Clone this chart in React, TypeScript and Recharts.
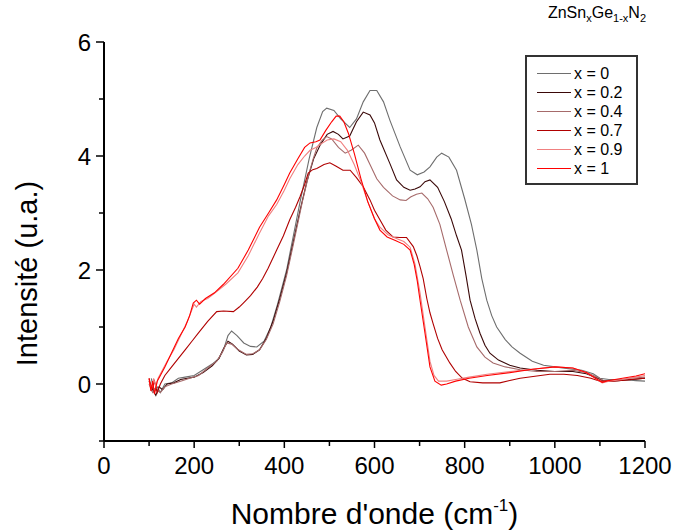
import { LineChart, Line, XAxis, YAxis, Label } from 'recharts';

const FONT = '"Liberation Sans", Arial, sans-serif';

const xTicks = [0, 100, 200, 300, 400, 500, 600, 700, 800, 900, 1000, 1100, 1200];
const yTicks = [-1, 0, 1, 2, 3, 4, 5, 6];

const seriesNames = ['x = 0', 'x = 0.2', 'x = 0.4', 'x = 0.7', 'x = 0.9', 'x = 1'];
const seriesColors = ['#6e6e6e', '#3a0808', '#a66a6a', '#b00000', '#f08080', '#ff0000'];

// [wavenumber, intensity]
const x0 = [
  [105, 0.1], [110, -0.1], [118, -0.05], [125, -0.15], [135, 0.0], [150, 0.02], [165, 0.1], [180, 0.12],
  [200, 0.15], [220, 0.25], [240, 0.35], [255, 0.45], [265, 0.6], [275, 0.85], [283, 0.93], [295, 0.85],
  [310, 0.72], [325, 0.66], [339, 0.65], [355, 0.75], [370, 1.0], [385, 1.4], [405, 2.0], [420, 2.6],
  [435, 3.2], [455, 3.95], [472, 4.5], [485, 4.78], [494, 4.84], [510, 4.8], [525, 4.65], [545, 4.5],
  [560, 4.65], [575, 4.95], [590, 5.15], [605, 5.15], [620, 4.95], [634, 4.63], [657, 4.16], [679, 3.75],
  [695, 3.67], [710, 3.72], [723, 3.81], [738, 3.98], [749, 4.05], [765, 3.98], [782, 3.75], [800, 3.25],
  [815, 2.8], [827, 2.35], [838, 1.85], [849, 1.47], [860, 1.2], [871, 1.0], [890, 0.78], [905, 0.65],
  [923, 0.54], [950, 0.4], [975, 0.33], [1000, 0.3], [1030, 0.27], [1060, 0.24], [1085, 0.18], [1100, 0.1],
  [1120, 0.08], [1150, 0.08], [1180, 0.06], [1200, 0.05],
];

const x02 = [
  [100, 0.05], [108, -0.1], [115, -0.2], [122, -0.05], [130, -0.1], [140, 0.0], [155, 0.02], [170, 0.08],
  [185, 0.1], [200, 0.12], [220, 0.2], [240, 0.32], [255, 0.45], [265, 0.62], [275, 0.75], [285, 0.7],
  [300, 0.58], [316, 0.51], [330, 0.52], [345, 0.6], [360, 0.8], [375, 1.1], [390, 1.5], [405, 1.95],
  [420, 2.5], [435, 3.05], [450, 3.55], [465, 3.95], [480, 4.2], [495, 4.38], [508, 4.43], [520, 4.38],
  [530, 4.3], [545, 4.35], [560, 4.6], [575, 4.77], [590, 4.72], [600, 4.58], [612, 4.28], [634, 3.87],
  [649, 3.58], [665, 3.45], [679, 3.4], [690, 3.42], [701, 3.46], [712, 3.55], [723, 3.58], [740, 3.45],
  [755, 3.2], [770, 2.9], [782, 2.6], [793, 2.35], [803, 1.9], [812, 1.47], [823, 1.15], [834, 0.89],
  [845, 0.68], [856, 0.54], [875, 0.42], [900, 0.33], [923, 0.28], [960, 0.24], [1000, 0.22], [1040, 0.22],
  [1070, 0.18], [1095, 0.1], [1110, 0.05], [1140, 0.06], [1170, 0.08], [1200, 0.1],
];

const x04 = [
  [100, 0.0], [108, -0.15], [115, -0.1], [125, -0.15], [135, -0.05], [150, 0.0], [170, 0.05], [190, 0.1],
  [210, 0.15], [230, 0.28], [250, 0.4], [262, 0.55], [272, 0.72], [283, 0.7], [298, 0.6], [316, 0.52],
  [330, 0.53], [345, 0.6], [360, 0.78], [375, 1.05], [390, 1.45], [405, 1.9], [420, 2.45], [440, 3.2],
  [455, 3.7], [464, 3.95], [472, 4.14], [484, 4.28], [494, 4.34], [505, 4.3], [520, 4.15], [535, 4.05],
  [548, 4.1], [564, 4.19], [578, 4.05], [590, 3.85], [605, 3.6], [620, 3.45], [640, 3.3], [657, 3.23],
  [670, 3.22], [680, 3.28], [693, 3.33], [705, 3.35], [718, 3.25], [730, 3.1], [745, 2.8], [760, 2.35],
  [775, 1.9], [790, 1.47], [808, 1.0], [827, 0.65], [845, 0.47], [863, 0.37], [890, 0.3], [923, 0.25],
  [960, 0.22], [1000, 0.22], [1040, 0.24], [1070, 0.2], [1095, 0.12], [1110, 0.05], [1140, 0.07],
  [1170, 0.1], [1200, 0.12],
];

const x07 = [
  [100, 0.1], [106, -0.1], [112, 0.05], [118, -0.15], [125, 0.0], [135, 0.15], [150, 0.3], [165, 0.45],
  [180, 0.6], [195, 0.75], [210, 0.9], [230, 1.1], [250, 1.27], [265, 1.28], [287, 1.27], [300, 1.35],
  [309, 1.42], [325, 1.55], [340, 1.7], [352, 1.85], [364, 2.03], [383, 2.35], [398, 2.6], [412, 2.88],
  [425, 3.1], [435, 3.29], [445, 3.5], [453, 3.7], [463, 3.76], [472, 3.78], [488, 3.85], [501, 3.88],
  [515, 3.82], [530, 3.75], [546, 3.75], [560, 3.62], [575, 3.46], [590, 3.23], [600, 3.05], [612, 2.88],
  [625, 2.7], [641, 2.58], [656, 2.57], [671, 2.57], [686, 2.41], [694, 2.25], [701, 2.06], [708, 1.85],
  [716, 1.5], [723, 1.25], [730, 1.06], [740, 0.8], [750, 0.6], [767, 0.37], [780, 0.22], [795, 0.1],
  [812, 0.04], [840, 0.02], [878, 0.02], [900, 0.06], [923, 0.1], [960, 0.14], [989, 0.17], [1020, 0.17],
  [1050, 0.15], [1080, 0.1], [1100, 0.05], [1130, 0.05], [1160, 0.07], [1200, 0.1],
];

const x09 = [
  [100, 0.05], [105, -0.1], [110, 0.1], [115, -0.05], [120, 0.1], [130, 0.25], [140, 0.4], [155, 0.6],
  [170, 0.85], [185, 1.1], [195, 1.3], [200, 1.4], [205, 1.35], [215, 1.45], [230, 1.5], [250, 1.62],
  [270, 1.75], [297, 1.95], [320, 2.25], [345, 2.65], [365, 2.95], [383, 3.15], [400, 3.4], [412, 3.6],
  [430, 3.85], [445, 4.0], [457, 4.1], [470, 4.15], [479, 4.2], [495, 4.28], [510, 4.3], [525, 4.25],
  [540, 4.1], [555, 3.85], [570, 3.55], [585, 3.2], [600, 2.9], [612, 2.75], [630, 2.62], [650, 2.55],
  [665, 2.5], [679, 2.4], [690, 2.1], [701, 1.6], [712, 1.0], [723, 0.4], [732, 0.15], [742, 0.05],
  [760, 0.05], [780, 0.08], [810, 0.12], [850, 0.17], [900, 0.22], [950, 0.26], [1000, 0.3], [1040, 0.28],
  [1070, 0.2], [1090, 0.1], [1105, 0.02], [1120, 0.05], [1150, 0.08], [1180, 0.12], [1200, 0.15],
];

const x1 = [
  [100, 0.1], [104, -0.12], [108, 0.05], [112, -0.18], [118, 0.05], [125, 0.15], [135, 0.3], [150, 0.55],
  [165, 0.8], [180, 1.0], [190, 1.2], [198, 1.42], [205, 1.47], [212, 1.4], [225, 1.5], [245, 1.6],
  [265, 1.75], [297, 2.03], [320, 2.35], [345, 2.75], [365, 3.0], [383, 3.23], [400, 3.5], [412, 3.7],
  [430, 3.95], [445, 4.15], [457, 4.23], [470, 4.25], [479, 4.28], [492, 4.45], [505, 4.6], [515, 4.7],
  [523, 4.7], [532, 4.6], [542, 4.4], [555, 4.05], [570, 3.6], [585, 3.2], [600, 2.9], [612, 2.7],
  [628, 2.58], [645, 2.52], [665, 2.45], [679, 2.35], [688, 2.1], [695, 1.8], [701, 1.47], [712, 0.89],
  [723, 0.3], [734, 0.05], [748, -0.02], [760, 0.0], [780, 0.05], [810, 0.1], [850, 0.15], [900, 0.2],
  [950, 0.26], [1000, 0.3], [1040, 0.28], [1070, 0.2], [1090, 0.1], [1105, 0.03], [1120, 0.06],
  [1150, 0.1], [1180, 0.14], [1200, 0.18],
];

const seriesData = [x0, x02, x04, x07, x09, x1].map((pts) => pts.map(([x, y]) => ({ x, y })));

const XTick = (props: any) => {
  const { x, y, payload } = props;
  const major = payload.value % 200 === 0;
  return (
    <g>
      <line x1={x} y1={y} x2={x} y2={y + (major ? 7 : 5)} stroke="#000" strokeWidth={1.5} />
      {major && (
        <text x={x} y={y + 33} textAnchor="middle" fontSize={24} fill="#000" fontFamily={FONT}>
          {payload.value}
        </text>
      )}
    </g>
  );
};

const YTick = (props: any) => {
  const { x, y, payload } = props;
  const major = payload.value % 2 === 0;
  return (
    <g>
      <line x1={x} y1={y} x2={x - (major ? 8 : 5)} y2={y} stroke="#000" strokeWidth={1.5} />
      {major && (
        <text x={x - 13} y={y + 9} textAnchor="end" fontSize={24} fill="#000" fontFamily={FONT}>
          {payload.value}
        </text>
      )}
    </g>
  );
};

const XLabel = (props: any) => {
  const { viewBox } = props;
  const cx = viewBox.x + viewBox.width / 2;
  return (
    <text x={cx} y={viewBox.y + 83} textAnchor="middle" fontSize={30} fill="#000" fontFamily={FONT}>
      Nombre d'onde (cm
      <tspan fontSize={17} dy={-13}>-1</tspan>
      <tspan dy={13}>)</tspan>
    </text>
  );
};

const YLabel = (props: any) => {
  const { viewBox } = props;
  const cy = viewBox.y + viewBox.height / 2 + 32;
  return (
    <text
      x={37}
      y={cy}
      transform={`rotate(-90, 37, ${cy})`}
      textAnchor="middle"
      fontSize={29}
      fill="#000"
      fontFamily={FONT}
    >
      Intensité (u.a.)
    </text>
  );
};

function ChartLegend() {
  return (
    <div
      style={{
        position: 'absolute',
        left: 525,
        top: 55,
        width: 109,
        height: 126,
        border: '2px solid #333',
        background: '#fff',
        fontFamily: FONT,
        fontSize: 16,
      }}
    >
      {seriesNames.map((name, i) => (
        <div
          key={name}
          style={{ position: 'absolute', left: 10, top: 7 + i * 19, height: 19, display: 'flex', alignItems: 'center' }}
        >
          <div style={{ width: 34, height: 1.5, background: seriesColors[i] }} />
          <span style={{ marginLeft: 3, color: '#000', whiteSpace: 'nowrap' }}>{name}</span>
        </div>
      ))}
    </div>
  );
}

export default function App() {
  return (
    <div style={{ position: 'absolute', left: 0, top: 0, width: 677, height: 530, background: '#fff' }}>
      <LineChart width={677} height={530} margin={{ top: 42, right: 32, bottom: 0, left: 0 }}>
        <XAxis
          dataKey="x"
          type="number"
          domain={[0, 1200]}
          ticks={xTicks}
          height={89}
          tickSize={0}
          tickMargin={0}
          tickLine={false}
          axisLine={{ stroke: '#000', strokeWidth: 2 }}
          tick={<XTick />}
          interval={0}
          allowDataOverflow
        >
          <Label content={<XLabel />} />
        </XAxis>
        <XAxis
          xAxisId="top"
          orientation="top"
          type="number"
          domain={[0, 1200]}
          height={0}
          tick={false}
          tickLine={false}
          axisLine={{ stroke: '#000', strokeWidth: 2 }}
        />
        <YAxis
          type="number"
          domain={[-1, 6]}
          ticks={yTicks}
          width={104}
          tickSize={0}
          tickMargin={0}
          tickLine={false}
          axisLine={{ stroke: '#000', strokeWidth: 2 }}
          tick={<YTick />}
          interval={0}
          allowDataOverflow
        >
          <Label content={<YLabel />} />
        </YAxis>
        <YAxis
          yAxisId="right"
          orientation="right"
          type="number"
          domain={[-1, 6]}
          width={0}
          tick={false}
          tickLine={false}
          axisLine={{ stroke: '#000', strokeWidth: 2 }}
        />
        {seriesData.map((d, i) => (
          <Line
            key={seriesNames[i]}
            data={d}
            dataKey="y"
            name={seriesNames[i]}
            type="linear"
            stroke={seriesColors[i]}
            strokeWidth={1.1}
            dot={false}
            isAnimationActive={false}
          />
        ))}
      </LineChart>
      <ChartLegend />
      <div
        style={{
          position: 'absolute',
          right: 31,
          top: 4,
          fontFamily: FONT,
          fontSize: 16,
          color: '#000',
          whiteSpace: 'nowrap',
        }}
      >
        ZnSn<sub style={{ fontSize: 11 }}>x</sub>Ge<sub style={{ fontSize: 11 }}>1-x</sub>N<sub style={{ fontSize: 11 }}>2</sub>
      </div>
    </div>
  );
}
